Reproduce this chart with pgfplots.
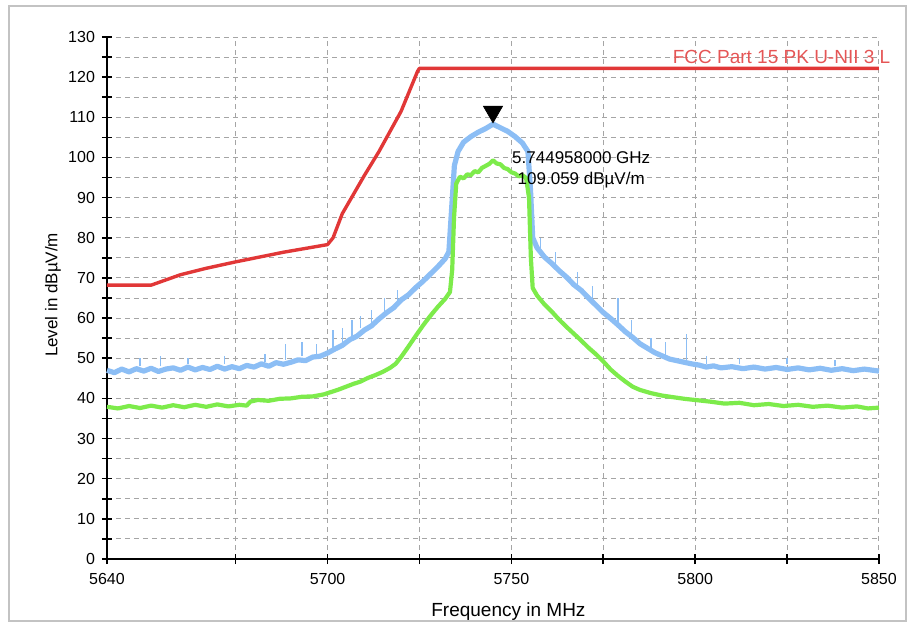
\documentclass[border=0pt]{standalone}
\usepackage{fontspec}
\setmainfont{Liberation Sans}
\usepackage{pgfplots}
\pgfplotsset{compat=1.18}
\definecolor{peakblue}{RGB}{140,190,245}
\definecolor{avggreen}{RGB}{125,235,75}
\definecolor{limitred}{RGB}{225,55,55}
\definecolor{gridgray}{RGB}{165,165,165}
\definecolor{framegray}{RGB}{195,195,195}
\begin{document}
\begin{tikzpicture}
\useasboundingbox (-53.5pt,-32pt) rectangle (400pt,279.5pt);
\draw[framegray, line width=0.9pt] (-49pt,-31pt) rectangle (399.5pt,276.5pt);
\begin{axis}[
 at={(0,0)}, anchor=south west, scale only axis,
 width=386pt, height=261pt,
 xmin=5640, xmax=5850, ymin=0, ymax=130,
 axis x line=bottom, axis y line=left,
 axis line style={-, line width=1pt, black},
 xtick={5640,5675,5700,5725,5750,5775,5800,5825,5850},
 xticklabels={5640,,5700,,5750,,5800,,5850},
 ytick={0,5,...,130},
 yticklabels={0,,10,,20,,30,,40,,50,,60,,70,,80,,90,,100,,110,,120,,130},
 tick align=center, major tick length=5pt,
 tick style={black, line width=0.8pt},
 grid=major, grid style={gridgray, line width=0.5pt, dash pattern=on 2.5pt off 2pt},
 ticklabel style={font=\fontsize{8}{9}\selectfont},
 xticklabel style={yshift=-1pt},
 xlabel={Frequency in MHz}, ylabel={Level in dBµV/m},
 xlabel style={font=\fontsize{9.5}{11}\selectfont, at={(axis description cs:0.52,-0.1)}, anchor=center},
 ylabel style={font=\fontsize{8.5}{10}\selectfont, at={(axis description cs:-0.07,0.506)}, anchor=center},
 clip=false,
]
% Peak trace (blue)
\addplot[peakblue, line width=2.6pt, line join=round] coordinates {
(5640,47.0) (5642,46.4) (5644,47.3) (5646,46.6) (5648,47.4) (5650,46.8) (5652,47.5)
(5654,46.7) (5656,47.3) (5658,47.6) (5660,47.0) (5662,47.8) (5664,47.1)
(5666,47.7) (5668,47.2) (5670,48.0) (5672,47.3) (5674,47.9) (5676,47.4) (5678,48.2)
(5680,47.8) (5682,48.6) (5684,48.0) (5686,48.9) (5688,48.5)
(5690,49.0) (5692,49.6) (5694,49.4) (5696,50.3) (5698,50.5) (5700,51.3) (5702,52.3)
(5704,53.2) (5706,54.6) (5708,55.5) (5710,57.0) (5712,58.1) (5714,59.8) (5716,61.3)
(5718,62.6) (5720,64.5) (5722,65.8) (5724,67.6) (5726,69.2) (5728,71.0) (5730,72.8)
(5732,74.8) (5733,76.5) (5733.8,88) (5734.5,98) (5735.5,101.5) (5737,103.8) (5739,105.2)
(5741,106.3) (5743,107.2) (5745,108.3) (5747,107.4) (5749,106.5) (5751,105.2) (5753,103.6)
(5754.5,101.5) (5755.2,92) (5755.8,80) (5757,77.5) (5759,75.2) (5761,73.6) (5763,71.8)
(5765,70.2) (5767,68.3) (5769,66.9) (5771,65.0) (5773,63.2) (5775,61.4) (5777,59.9)
(5779,58.3) (5781,56.6) (5783,55.2) (5785,53.6) (5787,52.5) (5789,51.4) (5791,50.6)
(5793,49.8) (5795,49.4) (5797,49.0) (5799,48.6) (5801,48.3) (5803,47.8) (5805,48.1)
(5807,47.6) (5810,47.9) (5813,47.4) (5816,47.8) (5819,47.3) (5822,47.7) (5825,47.2)
(5828,47.6) (5831,47.1) (5834,47.5) (5837,47.0) (5840,47.4) (5843,46.9) (5846,47.3)
(5850,46.8)
};
% Peak trace spikes (thin)
\addplot[peakblue, line width=0.7pt, unbounded coords=jump] coordinates {
(5649,48) (5649,50) (5649,nan)
(5654.6,48) (5654.6,50.5) (5654.6,nan)
(5662,48.5) (5662,50) (5662,nan)
(5672,48.5) (5672,50.5) (5672,nan)
(5683,49) (5683,51) (5683,nan)
(5688.6,49.5) (5688.6,53.5) (5688.6,nan)
(5693,50.5) (5693,54) (5693,nan)
(5697,51) (5697,53.5) (5697,nan)
(5701.5,52) (5701.5,57) (5701.5,nan)
(5704,54) (5704,57.5) (5704,nan)
(5706.6,55.5) (5706.6,59.5) (5706.6,nan)
(5709,57.5) (5709,60.5) (5709,nan)
(5712,58.5) (5712,62) (5712,nan)
(5715.5,61) (5715.5,65) (5715.5,nan)
(5719,63.5) (5719,67) (5719,nan)
(5758,76) (5758,80) (5758,nan)
(5762,73) (5762,76.5) (5762,nan)
(5768,68) (5768,71.5) (5768,nan)
(5772,64.5) (5772,68) (5772,nan)
(5779,59) (5779,65) (5779,nan)
(5782.6,56) (5782.6,59.5) (5782.6,nan)
(5788,52.5) (5788,55) (5788,nan)
(5792,50.5) (5792,54) (5792,nan)
(5797.6,49.5) (5797.6,56) (5797.6,nan)
(5803,48.5) (5803,50.5) (5803,nan)
(5812,48.5) (5812,50) (5812,nan)
(5825,48.5) (5825,50) (5825,nan)
(5838,48) (5838,49.5)
};
% Average trace (green)
\addplot[avggreen, line width=2.1pt, line join=round] coordinates {
(5640,37.9) (5643,37.5) (5646,38.1) (5649,37.6) (5652,38.2) (5655,37.7) (5658,38.3)
(5661,37.8) (5664,38.4) (5667,37.9) (5670,38.5) (5673,38.0) (5676,38.4) (5678,38.2)
(5679,39.2) (5681,39.6) (5684,39.4) (5687,39.9) (5690,40.0) (5693,40.4) (5696,40.5)
(5699,41.0) (5701,41.6) (5703,42.2) (5705,42.9) (5707,43.6) (5709,44.2) (5711,45.1)
(5713,45.8) (5715,46.6) (5717,47.6) (5718.5,48.6) (5720,50.3) (5722,52.9) (5724,55.6)
(5726,58.2) (5728,60.6) (5730,62.8) (5732,64.8) (5733.3,66.5) (5733.9,72) (5734.4,85)
(5735,93.5) (5736,95.2) (5737,94.8) (5738,95.8) (5739,95.6) (5740,96.6) (5741,96.3)
(5742,97.4) (5743,97.9) (5744,98.4) (5745,99.3) (5746,98.5) (5747,98.3) (5748,97.4)
(5749,97.1) (5750,96.3) (5751,96.0) (5752,95.3) (5753,95.6) (5754,94.9) (5754.8,90)
(5755.3,75) (5755.8,67.5) (5757,65.6) (5759,63.4) (5761,61.6) (5763,59.6) (5765,57.8)
(5767,56.1) (5769,54.4) (5771,52.6) (5773,51.0) (5775,49.2) (5777,47.2) (5779,45.6)
(5781,44.2) (5783,42.9) (5785,42.1) (5788,41.3) (5791,40.7) (5794,40.3) (5797,39.9)
(5800,39.6) (5804,39.2) (5808,38.7) (5812,38.9) (5816,38.3) (5820,38.6) (5824,38.1)
(5828,38.4) (5832,37.9) (5836,38.2) (5840,37.7) (5844,38.0) (5847,37.5) (5850,37.7)
};
% Limit line (red)
\addplot[limitred, line width=1.7pt, line join=round] coordinates {
(5640,68.2) (5652,68.2) (5660,70.8) (5667,72.4) (5675,74.0) (5688,76.4) (5700,78.3)
(5701.5,80.0) (5704,86.0) (5710,95.5) (5714,101.5) (5720,111.5) (5724.5,121.5)
(5725,122.2) (5850,122.2)
};
% Marker
\addplot[only marks, mark=triangle*, mark size=5.5pt,
  mark options={rotate=180, fill=black, draw=black}] coordinates {(5745,111.4)};
\node[anchor=base east, text=limitred!85, font=\fontsize{9.5}{11}\selectfont]
  at (axis cs:5855,123.4) {FCC Part 15 PK U-NII 3 L};
\node[align=center, font=\fontsize{8.5}{10.5}\selectfont, anchor=center]
  at (axis cs:5769,97) {5.744958000 GHz\\109.059 dBµV/m};
\end{axis}
\end{tikzpicture}
\end{document}
